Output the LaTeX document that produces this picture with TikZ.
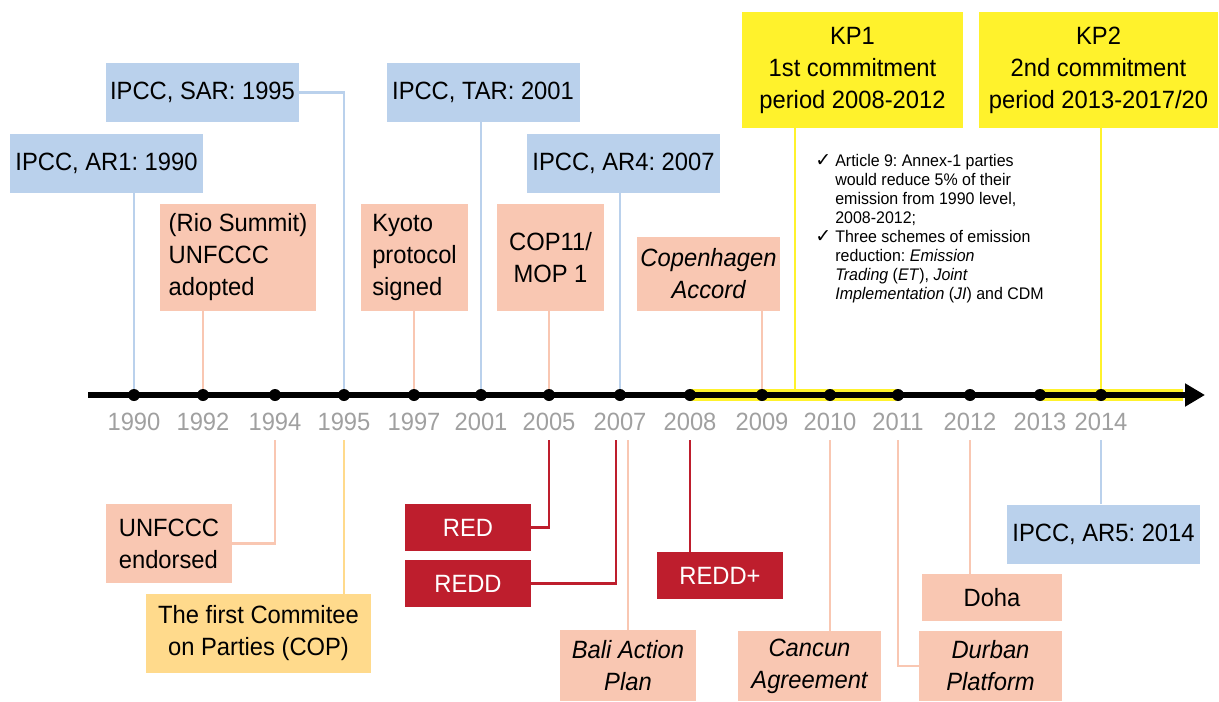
\documentclass[tikz,border=0pt]{standalone}
\usepackage{fontspec}
\setmainfont{Liberation Sans}[FakeStretch=0.95]
\newfontfamily\tlsymfont{DejaVu Sans}
\usetikzlibrary{arrows.meta}
\frenchspacing

\definecolor{ipccblue}{HTML}{BAD1EC}
\definecolor{salmon}{HTML}{F9C7B2}
\definecolor{kpyellow}{HTML}{FFF22C}
\definecolor{copgold}{HTML}{FFDA8C}
\definecolor{reddred}{HTML}{BE1E2D}
\definecolor{yeargray}{HTML}{A0A0A0}

\newcommand{\tlboxfont}{\fontsize{12.5}{16}\selectfont}
\newcommand{\tlnotefont}{\fontsize{8.4}{9.5}\selectfont}
\newcommand{\tlcheck}{{\tlsymfont\fontsize{9.5}{9.5}\selectfont ✓}}

\tikzset{
  box/.style={inner sep=0pt, align=center, font=\tlboxfont},
  italic/.style={font=\tlboxfont\itshape},
  ipccbox/.style={box, fill=ipccblue, minimum width=96.5pt, minimum height=29.5pt},
  eventbox/.style={box, fill=salmon},
  copbox/.style={box, fill=copgold},
  kpbox/.style={box, fill=kpyellow, minimum height=58pt},
  reddbox/.style={box, fill=reddred, text=white, minimum width=63pt, minimum height=23.5pt},
  yearlabel/.style={inner sep=0pt, minimum height=18pt, text=yeargray, font=\fontsize{12.5}{14}\selectfont},
  link/.style={line width=1.4pt},
  ipcclink/.style={link, ipccblue},
  eventlink/.style={link, salmon},
  coplink/.style={link, copgold},
  kplink/.style={link, kpyellow},
  reddlink/.style={link, reddred},
  kpband/.style={kpyellow, line width=6pt}
}

\begin{document}
\begin{tikzpicture}[x=0.5pt,y=-0.5pt]
\useasboundingbox (0,0) rectangle (1219,701);

% years on the axis
\foreach \yr/\xx in {1990/134,1992/203,1994/275,1995/344,1997/414,2001/481,2005/549,2007/620,2008/690,2009/762,2010/830,2011/898,2012/970,2013/1040,2014/1101}{
  \coordinate (y\yr) at (\xx,395);
  \node[yearlabel] (l\yr) at (\xx,422) {\yr};
}
\coordinate (axisstart) at (88,395);
\coordinate (axisend) at (1205,395);
\coordinate (kp2end) at (1183,395);
\coordinate (kp1foot) at (795,395);
\coordinate (reddfoot) at (616,440);

% above the axis
\node[ipccbox] (ar1) at (106.5,163.5) {IPCC, AR1: 1990};
\node[ipccbox] (sar) at (202.5,92.5) {IPCC, SAR: 1995};
\node[ipccbox] (tar) at (483,92.5) {IPCC, TAR: 2001};
\node[ipccbox] (ar4) at (623.5,163.5) {IPCC, AR4: 2007};
\node[eventbox, minimum width=78pt, minimum height=53.5pt, align=left] (rio) at (238,257.5) {(Rio Summit)\\UNFCCC\\adopted};
\node[eventbox, minimum width=53.5pt, minimum height=53.5pt, align=left] (kyoto) at (414.5,257.5) {Kyoto\\protocol\\signed};
\node[eventbox, minimum width=53.5pt, minimum height=53.5pt] (cop11) at (550.5,257.5) {COP11/\\MOP 1};
\node[eventbox, italic, minimum width=71.5pt, minimum height=37pt] (copenhagen) at (708.5,274) {Copenhagen\\Accord};
\node[kpbox, minimum width=110.5pt] (kp1) at (852.5,70) {KP1\\1st commitment\\period 2008-2012};
\node[kpbox, minimum width=119.5pt] (kp2) at (1098.5,70) {KP2\\2nd commitment\\period 2013-2017/20};
\node[anchor=base west, inner sep=0pt, font=\tlnotefont] (kpnotes) at (815,166) {%
  \begin{tabular}[t]{@{}l@{\hspace{2pt}}l@{}}
  \tlcheck & Article 9: Annex-1 parties\\
   & would reduce 5\% of their\\
   & emission from 1990 level,\\
   & 2008-2012;\\
  \tlcheck & Three schemes of emission\\
   & reduction: \textit{Emission}\\
   & \textit{Trading} (\textit{ET}), \textit{Joint}\\
   & \textit{Implementation} (\textit{JI}) and CDM
  \end{tabular}};

% below the axis
\node[eventbox, minimum width=63pt, minimum height=39.5pt, align=left] (endorsed) at (169,543.5) {UNFCCC\\endorsed};
\node[copbox, minimum width=112.5pt, minimum height=39.5pt] (cop1) at (258.5,633.5) {The first Commitee\\on Parties (COP)};
\node[reddbox] (red) at (468,527.5) {RED};
\node[reddbox] (redd) at (468,583.5) {REDD};
\node[reddbox] (reddplus) at (720,575.5) {REDD+};
\node[eventbox, italic, minimum width=68pt, minimum height=35.5pt] (bali) at (628,665.5) {Bali Action\\Plan};
\node[eventbox, italic, minimum width=71.5pt, minimum height=35pt] (cancun) at (809.5,666) {Cancun\\Agreement};
\node[eventbox, minimum width=70pt, minimum height=23.5pt] (doha) at (992,597.5) {Doha};
\node[eventbox, italic, minimum width=71.5pt, minimum height=35pt] (durban) at (990.5,666) {Durban\\Platform};
\node[ipccbox] (ar5) at (1103.5,534) {IPCC, AR5: 2014};

% connectors
\draw[ipcclink] (ar1.south -| y1990) -- (y1990);
\draw[ipcclink] (sar.east) -| (y1995);
\draw[ipcclink] (tar.south -| y2001) -- (y2001);
\draw[ipcclink] (ar4.south -| y2007) -- (y2007);
\draw[eventlink] (rio.south -| y1992) -- (y1992);
\draw[eventlink] (kyoto.south -| y1997) -- (y1997);
\draw[eventlink] (cop11.south -| y2005) -- (y2005);
\draw[eventlink] (copenhagen.south -| y2009) -- (y2009);
\draw[kplink] (kp1.south -| kp1foot) -- (kp1foot);
\draw[kplink] (kp2.south -| y2014) -- (y2014);
\draw[eventlink] (endorsed.east) -| (l1994.south);
\draw[coplink] (cop1.north -| l1995.south) -- (l1995.south);
\draw[reddlink] (red.east) -| (l2005.south);
\draw[reddlink] (redd.east) -| (reddfoot);
\draw[eventlink] (bali.north) -- (bali.north |- l2007.south);
\draw[reddlink] (reddplus.north -| l2008.south) -- (l2008.south);
\draw[eventlink] (cancun.north -| l2010.south) -- (l2010.south);
\draw[eventlink] (doha.north -| l2012.south) -- (l2012.south);
\draw[eventlink] (durban.west) -| (l2011.south);
\draw[ipcclink] (ar5.north -| l2014.south) -- (l2014.south);

% the time axis
\draw[kpband] (y2008) -- (y2011);
\draw[kpband] (y2013) -- (kp2end);
\draw[line width=3pt, -{Triangle[length=10pt,width=11pt]}] (axisstart) -- (axisend);
\foreach \yr in {1990,1992,1994,1995,1997,2001,2005,2007,2008,2009,2010,2011,2012,2013,2014}
  \fill (y\yr) circle (3pt);
\end{tikzpicture}
\end{document}
